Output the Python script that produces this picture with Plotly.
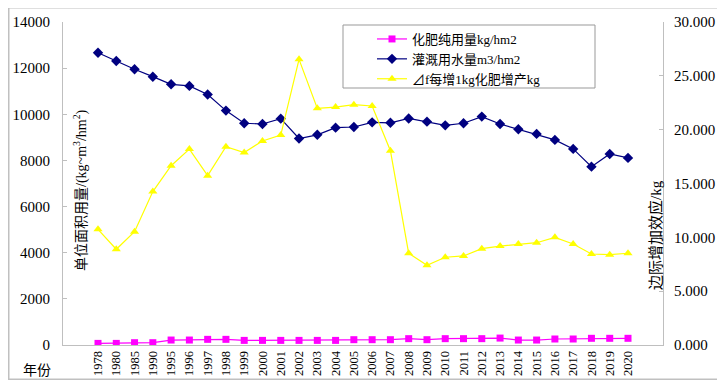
import plotly.graph_objects as go

years = ["1978", "1980", "1985", "1990", "1995", "1996", "1997", "1998", "1999", "2000",
         "2001", "2002", "2003", "2004", "2005", "2006", "2007", "2008", "2009", "2010",
         "2011", "2012", "2013", "2014", "2015", "2016", "2017", "2018", "2019", "2020"]

fertilizer = [70, 70, 100, 100, 215, 215, 245, 245, 200, 200,
              200, 200, 200, 200, 230, 230, 230, 275, 230, 275,
              275, 275, 300, 215, 215, 260, 260, 290, 290, 290]

irrigation = [12670, 12310, 11950, 11630, 11300, 11230, 10860, 10160, 9610, 9580,
              9810, 8950, 9110, 9420, 9450, 9650, 9630, 9820, 9680, 9520,
              9610, 9900, 9580, 9350, 9150, 8890, 8500, 7730, 8280, 8110]

marginal = [10.74, 8.89, 10.52, 14.25, 16.65, 18.2, 15.73, 18.42, 17.88, 18.95,
            19.5, 26.53, 21.98, 22.1, 22.32, 22.2, 18.05, 8.52, 7.40, 8.15,
            8.27, 8.95, 9.19, 9.38, 9.5, 10.0, 9.38, 8.45, 8.39, 8.52]

names = ["化肥纯用量kg/hm2", "灌溉用水量m3/hm2", "⊿f每增1kg化肥增产kg"]

serif = "Liberation Serif, Times New Roman, Noto Sans CJK SC, serif"
gray = "#bfbfbf"

fig = go.Figure()
fig.add_trace(go.Scatter(x=years, y=fertilizer, name=names[0], mode="lines+markers",
                         line=dict(color="#FF00FF", width=1.2),
                         marker=dict(symbol="square", size=7, color="#FF00FF")))
fig.add_trace(go.Scatter(x=years, y=irrigation, name=names[1], mode="lines+markers",
                         line=dict(color="#000080", width=1.2),
                         marker=dict(symbol="diamond", size=8, color="#000080")))
fig.add_trace(go.Scatter(x=years, y=marginal, name=names[2], mode="lines+markers", yaxis="y2",
                         line=dict(color="#FFFF00", width=1.2),
                         marker=dict(symbol="triangle-up", size=8, color="#FFFF00")))

# page body adds an 8px offset; plot area in the page spans x 63-663, y 22-345
fig.update_layout(
    width=725, height=387,
    margin=dict(l=55, r=70, t=14, b=50, autoexpand=False),
    paper_bgcolor="white", plot_bgcolor="white",
    font=dict(family=serif, size=14, color="black"),
    showlegend=True,
    legend=dict(x=(372 - 63) / 600, y=(345 - 24) / 323, xanchor="left", yanchor="top",
                bgcolor="rgba(0,0,0,0)", borderwidth=0,
                font=dict(size=13, family=serif), tracegroupgap=0),
    xaxis=dict(type="category", showline=True, linecolor=gray, linewidth=1,
               showgrid=False, ticks="", tickangle=-90, automargin=False,
               tickfont=dict(size=12.5, family=serif), zeroline=False),
    yaxis=dict(range=[0, 14000], dtick=2000, showline=True, linecolor=gray, linewidth=1,
               showgrid=False, ticks="inside", ticklen=4, tickcolor=gray, automargin=False,
               ticklabelstandoff=9,
               tickfont=dict(size=15, family=serif), zeroline=False, tickformat="d"),
    yaxis2=dict(range=[0, 30], dtick=5, overlaying="y", side="right", showline=True,
                linecolor=gray, linewidth=1, showgrid=False, ticks="inside", ticklen=4,
                tickcolor=gray, tickformat=".3f", automargin=False, ticklabelstandoff=7,
                tickfont=dict(size=15, family=serif), zeroline=False),
)

fig.add_annotation(x=(80 - 63) / 600, y=(345 - 190) / 323, xref="paper", yref="paper",
                   xanchor="center", yanchor="middle", showarrow=False,
                   text="单位面积用量/(kg~m<sup>3</sup>/hm<sup>2</sup>)", textangle=-90,
                   font=dict(size=14, family=serif))
fig.add_annotation(x=(655 - 63) / 600, y=(345 - 235) / 323, xref="paper", yref="paper",
                   xanchor="center", yanchor="middle", showarrow=False,
                   text="边际增加效应/kg", textangle=-90,
                   font=dict(size=15, family=serif))
fig.add_annotation(x=(37 - 63) / 600, y=(345 - 370) / 323, xref="paper", yref="paper",
                   xanchor="center", yanchor="middle", showarrow=False,
                   text="年份", font=dict(size=14, family=serif))

# outer chart border (empty bordered annotation box)
fig.add_annotation(x=(365.5 - 63) / 600, y=(345 - 194) / 323, xref="paper", yref="paper",
                   xanchor="center", yanchor="middle", showarrow=False, text="&#160;",
                   width=713, height=370, borderpad=0, borderwidth=1.5,
                   bordercolor="#c0c0c0", bgcolor="rgba(0,0,0,0)")
# legend frame
fig.add_shape(type="rect", xref="paper", yref="paper",
              x0=(343 - 63) / 600, x1=(595 - 63) / 600,
              y0=(345 - 88) / 323, y1=(345 - 25) / 323,
              line=dict(color="#999999", width=1), fillcolor="white", layer="above")

fig.write_html("out.html")
